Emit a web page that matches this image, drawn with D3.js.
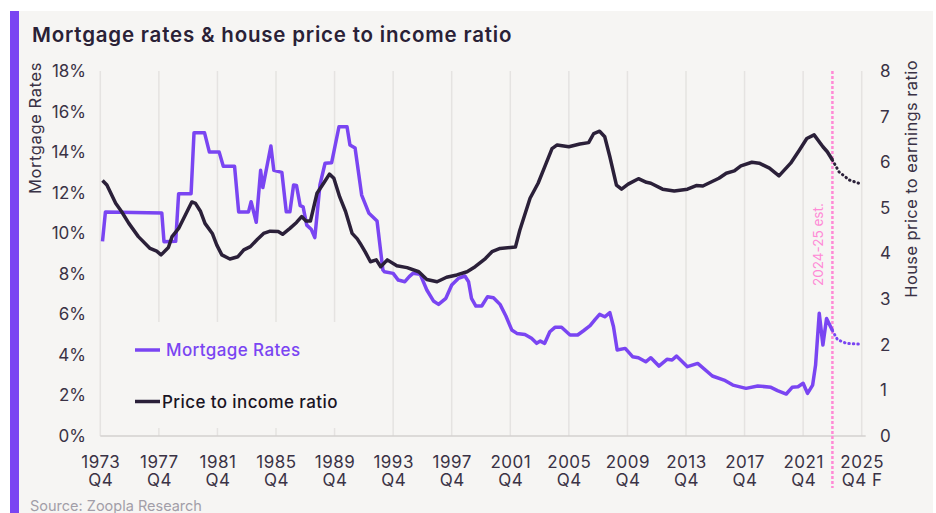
<!DOCTYPE html>
<html lang="en">
<head>
  <meta charset="UTF-8">
  <title>Mortgage rates & house price to income ratio</title>
  <script src="https://d3js.org/d3.v7.min.js"></script>
  <style>
    body {
      margin: 0;
      padding: 0;
      background: #ffffff;
      font-family: Inter, "Noto Sans", sans-serif;
    }
    .tick text {
      font-family: Inter, "Noto Sans", sans-serif;
    }
  </style>
</head>
<body>
  <div id="chart"></div>

  <script>
    // Values: [year (decimal), value]
    const mortgageRates = [
      [1973.9, 9.6], [1974.1, 11.05], [1977.95, 11.0], [1978.1, 9.58], [1978.9, 9.6],
      [1979.1, 11.95], [1979.95, 11.95], [1980.15, 14.95], [1980.87, 14.95], [1981.2, 14.0],
      [1981.87, 14.0], [1982.15, 13.3], [1982.92, 13.3], [1983.2, 11.05], [1983.87, 11.05],
      [1984.05, 11.55], [1984.4, 10.54], [1984.7, 13.1], [1984.85, 12.25], [1985.4, 14.3],
      [1985.6, 13.1], [1986.15, 13.0], [1986.45, 11.06], [1986.7, 11.06], [1986.95, 12.38],
      [1987.15, 12.35], [1987.4, 11.36], [1987.6, 11.3], [1987.85, 10.4], [1988.15, 10.2],
      [1988.4, 9.78], [1988.75, 12.38], [1989.1, 13.45], [1989.55, 13.48], [1990.05, 15.25],
      [1990.6, 15.25], [1990.8, 14.35], [1991.15, 14.2], [1991.6, 11.88], [1992.1, 10.98],
      [1992.65, 10.6], [1993.05, 8.19], [1993.15, 8.1], [1993.75, 8.02], [1994.1, 7.69],
      [1994.55, 7.61], [1994.85, 7.86], [1995.1, 8.02], [1995.6, 7.97], [1996.05, 7.2],
      [1996.5, 6.66], [1996.85, 6.49], [1997.35, 6.79], [1997.75, 7.45], [1998.2, 7.77],
      [1998.65, 7.89], [1998.9, 7.61], [1999.1, 6.79], [1999.4, 6.41], [1999.8, 6.41],
      [2000.2, 6.87], [2000.6, 6.82], [2001.05, 6.49], [2001.45, 5.92], [2001.85, 5.23],
      [2002.2, 5.06], [2002.75, 5.01], [2003.2, 4.82], [2003.55, 4.57], [2003.8, 4.68],
      [2004.1, 4.57], [2004.45, 5.14], [2004.8, 5.36], [2005.25, 5.36], [2005.83, 4.98],
      [2006.35, 4.98], [2006.75, 5.19], [2007.2, 5.44], [2007.55, 5.75], [2007.85, 6.0],
      [2008.2, 5.88], [2008.55, 6.08], [2008.8, 5.39], [2009.05, 4.24], [2009.6, 4.32],
      [2010.1, 3.91], [2010.5, 3.86], [2011.0, 3.66], [2011.35, 3.86], [2011.9, 3.45],
      [2012.45, 3.78], [2012.8, 3.75], [2013.1, 3.94], [2013.85, 3.42], [2014.55, 3.58],
      [2015.55, 2.96], [2016.35, 2.76], [2016.95, 2.51], [2017.85, 2.35], [2018.65, 2.47],
      [2019.55, 2.4], [2020.0, 2.24], [2020.6, 2.07], [2021.0, 2.4], [2021.4, 2.43],
      [2021.75, 2.6], [2022.05, 2.1], [2022.4, 2.51], [2022.6, 3.5], [2022.85, 6.05],
      [2023.1, 4.49], [2023.35, 5.8], [2023.75, 5.2], [2024.1, 4.75], [2024.7, 4.57],
      [2025.75, 4.52]
    ];

    const priceToIncome = [
      [1973.9, 5.6], [1974.2, 5.5], [1974.8, 5.1], [1975.2, 4.92], [1975.7, 4.66],
      [1976.35, 4.37], [1977.15, 4.11], [1977.6, 4.05], [1977.9, 3.97], [1978.4, 4.13],
      [1978.65, 4.37], [1979.1, 4.55], [1979.55, 4.84], [1980.0, 5.13], [1980.25, 5.1],
      [1980.6, 4.92], [1980.9, 4.66], [1981.4, 4.44], [1981.7, 4.19], [1982.05, 3.97],
      [1982.6, 3.88], [1983.15, 3.93], [1983.55, 4.08], [1984.0, 4.15], [1984.45, 4.3],
      [1984.9, 4.44], [1985.35, 4.49], [1985.9, 4.48], [1986.2, 4.42], [1986.7, 4.55],
      [1987.15, 4.68], [1987.5, 4.81], [1987.8, 4.71], [1988.1, 4.71], [1988.55, 5.32],
      [1989.0, 5.54], [1989.4, 5.74], [1989.7, 5.65], [1990.1, 5.24], [1990.5, 4.92],
      [1990.95, 4.44], [1991.3, 4.32], [1991.5, 4.22], [1991.85, 4.03], [1992.2, 3.82],
      [1992.6, 3.86], [1992.9, 3.71], [1993.35, 3.86], [1994.0, 3.73], [1994.7, 3.69],
      [1995.5, 3.6], [1996.05, 3.43], [1996.75, 3.38], [1997.4, 3.48], [1998.1, 3.53],
      [1998.8, 3.6], [1999.35, 3.71], [2000.05, 3.89], [2000.5, 4.04], [2001.05, 4.11],
      [2002.1, 4.14], [2002.4, 4.51], [2003.1, 5.21], [2003.65, 5.54], [2004.1, 5.9],
      [2004.6, 6.3], [2004.95, 6.38], [2005.75, 6.34], [2006.5, 6.4], [2007.1, 6.43],
      [2007.45, 6.63], [2007.85, 6.68], [2008.2, 6.56], [2008.55, 6.12], [2009.0, 5.5],
      [2009.35, 5.41], [2009.8, 5.52], [2010.5, 5.64], [2011.05, 5.56], [2011.35, 5.54],
      [2012.15, 5.41], [2012.95, 5.37], [2013.85, 5.41], [2014.45, 5.49], [2014.9, 5.48],
      [2016.0, 5.65], [2016.5, 5.76], [2017.05, 5.81], [2017.5, 5.92], [2018.25, 6.0],
      [2018.75, 5.98], [2019.45, 5.87], [2020.1, 5.7], [2020.9, 5.98], [2021.5, 6.27],
      [2022.0, 6.52], [2022.5, 6.6], [2023.1, 6.34], [2023.4, 6.23], [2023.75, 6.05],
      [2024.2, 5.79], [2024.9, 5.61], [2025.75, 5.52]
    ];

    const tickYears = [1973, 1977, 1981, 1985, 1989, 1993, 1997, 2001, 2005, 2009, 2013, 2017, 2021, 2025];
    const tickQuarters = ["Q4", "Q4", "Q4", "Q4", "Q4", "Q4", "Q4", "Q4", "Q4", "Q4", "Q4", "Q4", "Q4", "Q4 F"];
    const rateTicks = [0, 2, 4, 6, 8, 10, 12, 14, 16, 18];
    const ratioTicks = [0, 1, 2, 3, 4, 5, 6, 7, 8];
    const forecastStart = 2023.75;

    const width = 936;
    const height = 513;
    const bg = "#f6f5f3";
    const purple = "#7a45f2";
    const dark = "#2b2039";
    const pink = "#ff8ad6";
    const textCol = "#3a3245";

    const svg = d3.select("#chart")
      .append("svg")
      .attr("width", width)
      .attr("height", height);

    // panel + accent bar
    svg.append("rect").attr("x", 19).attr("y", 11).attr("width", 914).attr("height", height - 11).attr("fill", bg);
    svg.append("rect").attr("x", 10).attr("y", 11).attr("width", 9).attr("height", height - 11).attr("fill", purple);

    svg.append("text")
      .attr("x", 32).attr("y", 41.5)
      .style("font-size", "20.5px").style("font-weight", 600)
      .style("letter-spacing", "0.8px")
      .attr("fill", "#2a2136")
      .text("Mortgage rates & house price to income ratio");

    const x = d3.scaleLinear().domain([1973.75, 2025.75]).range([100.3, 861.7]);
    const yL = d3.scaleLinear().domain([0, 18]).range([436, 71]);
    const yR = d3.scaleLinear().domain([0, 8]).range([436, 71]);

    // vertical gridlines
    svg.append("g")
      .selectAll("line")
      .data(tickYears)
      .join("line")
      .attr("x1", d => x(d + 0.75)).attr("x2", d => x(d + 0.75))
      .attr("y1", yL(18)).attr("y2", yL(0))
      .attr("stroke", "#e5e3e1").attr("stroke-width", 1.5);

    // baseline
    svg.append("line")
      .attr("x1", x(1973.75)).attr("x2", x(2025.75) + 4)
      .attr("y1", yL(0)).attr("y2", yL(0))
      .attr("stroke", "#d3d1cf").attr("stroke-width", 1.5);

    // legend background hides gridlines behind it
    svg.append("rect").attr("x", 108).attr("y", 322).attr("width", 277).attr("height", 106).attr("fill", bg);

    // x axis (two-line labels)
    const xAxis = svg.append("g")
      .attr("transform", `translate(0,${yL(0)})`)
      .call(d3.axisBottom(x).tickValues(tickYears.map(d => d + 0.75)).tickSize(0).tickFormat(""));
    xAxis.select(".domain").remove();
    xAxis.selectAll(".tick text").remove();
    xAxis.selectAll(".tick").each(function (d, i) {
      const t = d3.select(this).append("text")
        .attr("text-anchor", "middle")
        .attr("fill", textCol)
        .style("font-size", "17px")
        .style("letter-spacing", "0.5px");
      t.append("tspan").attr("x", 0).attr("y", 31.5).text(tickYears[i]);
      t.append("tspan").attr("x", 0).attr("y", 50).text(tickQuarters[i]);
    });

    // left axis
    const yAxisL = svg.append("g")
      .attr("transform", `translate(86,0)`)
      .call(d3.axisLeft(yL).tickValues(rateTicks).tickSize(0).tickPadding(0).tickFormat(d => d + "%"));
    yAxisL.select(".domain").remove();
    yAxisL.selectAll(".tick text").attr("fill", textCol).style("font-size", "17px");

    // right axis
    const yAxisR = svg.append("g")
      .attr("transform", `translate(880,0)`)
      .call(d3.axisRight(yR).tickValues(ratioTicks).tickSize(0).tickPadding(0));
    yAxisR.select(".domain").remove();
    yAxisR.selectAll(".tick text").attr("fill", textCol).style("font-size", "17px");

    // axis titles
    svg.append("text")
      .attr("transform", "translate(41,62) rotate(-90)")
      .attr("text-anchor", "end")
      .attr("fill", textCol).style("font-size", "16.5px").style("letter-spacing", "0.6px")
      .text("Mortgage Rates");
    svg.append("text")
      .attr("transform", "translate(917,60) rotate(-90)")
      .attr("text-anchor", "end")
      .attr("fill", textCol).style("font-size", "16.5px").style("letter-spacing", "0.4px")
      .text("House price to earnings ratio");

    // forecast marker
    svg.append("line")
      .attr("x1", x(forecastStart)).attr("x2", x(forecastStart))
      .attr("y1", 71).attr("y2", 488)
      .attr("stroke", pink).attr("stroke-width", 2.5).attr("stroke-dasharray", "3,2");
    svg.append("text")
      .attr("transform", `translate(${x(forecastStart) - 9},286) rotate(-90)`)
      .attr("fill", pink).style("font-size", "13.5px")
      .text("2024-25 est.");

    // lines
    function drawSeries(data, y, color) {
      const line = d3.line().x(d => x(d[0])).y(d => y(d[1]));
      svg.append("path")
        .datum(data.filter(d => d[0] <= forecastStart))
        .attr("d", line)
        .attr("fill", "none").attr("stroke", color)
        .attr("stroke-width", 3.5).attr("stroke-linejoin", "round");
      svg.append("path")
        .datum(data.filter(d => d[0] >= forecastStart))
        .attr("d", line)
        .attr("fill", "none").attr("stroke", color)
        .attr("stroke-width", 3).attr("stroke-linecap", "round")
        .attr("stroke-dasharray", "0.5,4");
    }
    drawSeries(mortgageRates, yL, purple);
    drawSeries(priceToIncome, yR, dark);

    // legend
    const legend = [
      { label: "Mortgage Rates", color: purple, textColor: purple, y: 350, tx: 166 },
      { label: "Price to income ratio", color: dark, textColor: "#1a1424", y: 401.5, tx: 162 }
    ];
    legend.forEach(l => {
      svg.append("line")
        .attr("x1", 135).attr("x2", 160).attr("y1", l.y).attr("y2", l.y)
        .attr("stroke", l.color).attr("stroke-width", 3.5);
      svg.append("text")
        .attr("x", l.tx).attr("y", l.y + 6)
        .attr("fill", l.textColor)
        .style("font-size", "17px").style("font-weight", 500).style("letter-spacing", "0.4px")
        .text(l.label);
    });

    svg.append("text")
      .attr("x", 30).attr("y", 511)
      .attr("fill", "#a29ea8").style("font-size", "14.5px")
      .text("Source: Zoopla Research");
  </script>
</body>
</html>
